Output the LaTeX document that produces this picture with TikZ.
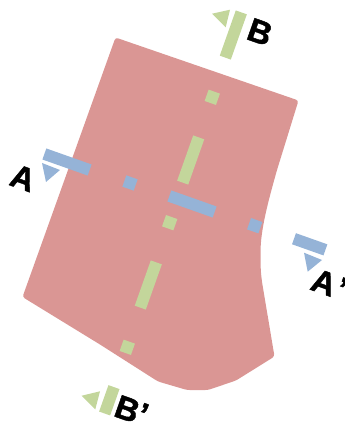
\documentclass[tikz,border=0pt]{standalone}
\usepackage{fontspec}
\setsansfont{Liberation Sans}[BoldFeatures={FakeBold=1.4}]
\definecolor{sheetred}{HTML}{DA9694}
\definecolor{cutblue}{HTML}{95B3D7}
\definecolor{cutgreen}{HTML}{C3D69B}
\begin{document}
\begin{tikzpicture}[x=0.75pt,y=-0.75pt,
    cutbar/.style={
      rectangle,
      inner sep=0pt,
      rotate=-19.5
    },
    longbar/.style={cutbar,minimum width=36pt,minimum height=8.8pt},  % section strokes
    shortbar/.style={cutbar,minimum width=9pt,minimum height=9pt},    % dots of the line
    markbar/.style={cutbar,minimum width=25pt,minimum height=8.8pt},
    viewlabel/.style={
      font=\sffamily\bfseries\fontsize{24.5}{24.5}\selectfont,
      inner sep=0pt,
      rotate=-19.5
    }
  ]
    \useasboundingbox (0,0) rectangle (344,427);

    % Outline of the part
    \fill[sheetred,rounded corners=2pt]
      (115.5,37.5) -- (298.5,100.5) -- (277,170)
      .. controls (268,202) and (260.5,230) .. (260.5,255)
      .. controls (260.5,268) and (261,275) .. (262.5,285)
      -- (274.5,356.5) -- (236,380.5) -- (208,390) -- (187,390)
      -- (158,381.5) -- (100,344.5) -- (22.5,297) -- cycle;

    % Cut line A-A'
    \node[longbar,fill=cutblue] (a1) at (67,162) {};
    \node[shortbar,fill=cutblue] (a2) at (130,183) {};
    \node[longbar,fill=cutblue] (a3) at (192,204) {};
    \node[shortbar,fill=cutblue] (a4) at (254.7,225.7) {};
    \node[markbar,fill=cutblue] (a5) at (309.7,244.3) {};

    % Cut line B-B'
    \node[longbar,fill=cutgreen,rotate=90] (b1) at (233.3,35) {};
    \node[shortbar,fill=cutgreen] (b2) at (212.3,97.3) {};
    \node[longbar,fill=cutgreen,rotate=90] (b3) at (190.7,160) {};
    \node[shortbar,fill=cutgreen] (b4) at (169.7,222.7) {};
    \node[longbar,fill=cutgreen,rotate=90] (b5) at (148.3,285) {};
    \node[shortbar,fill=cutgreen] (b6) at (127.3,347.3) {};
    \node[markbar,fill=cutgreen,rotate=90,minimum width=21pt] (b7) at (109.3,400.3) {};

    % View arrows
    \fill[cutblue] (42,163) -- (60,170) -- (46,182) -- cycle;
    \fill[cutblue] (304,252.7) -- (322,260) -- (307.7,271.7) -- cycle;
    \fill[cutgreen] (212,13.7) -- (230,9.7) -- (225.7,27.3) -- cycle;
    \fill[cutgreen] (81.7,395.7) -- (100,391.3) -- (95.3,409.3) -- cycle;

    % Labels
    \node[viewlabel] (la) at (23,178) {A};
    \node[viewlabel] (lb) at (260,32) {B};
    \node[viewlabel,anchor=west] (lap) at (312.5,278.5) {A\kern2pt'};
    \node[viewlabel,anchor=west] (lbp) at (116,405) {B'};
\end{tikzpicture}
\end{document}
